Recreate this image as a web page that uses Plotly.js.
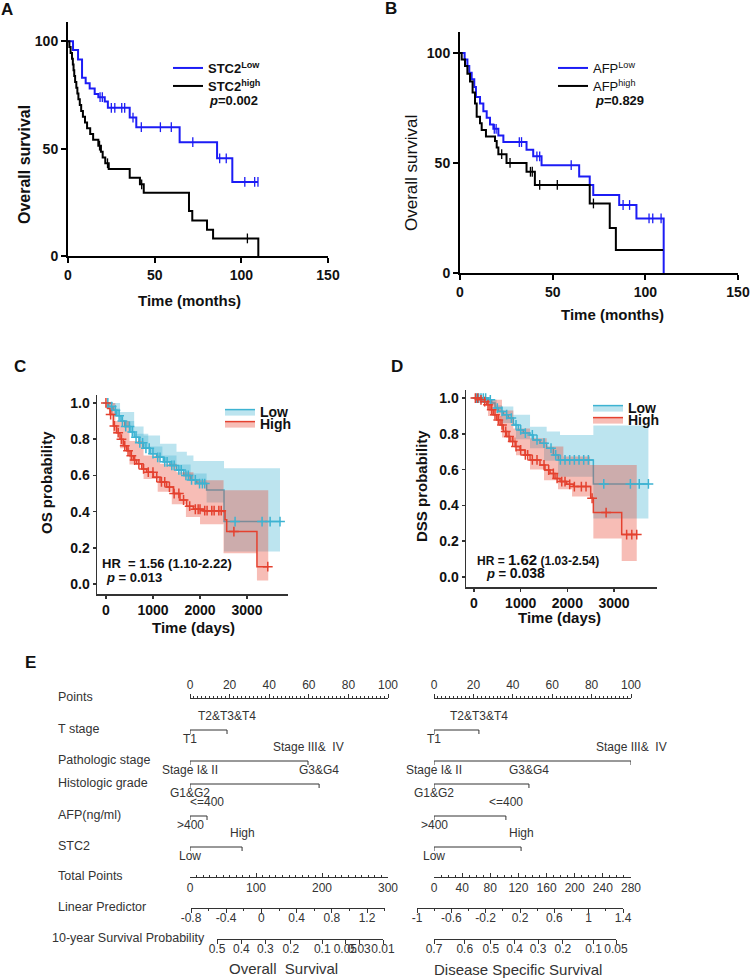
<!DOCTYPE html>
<html>
<head>
<meta charset="utf-8">
<script src="https://cdn.plot.ly/plotly-3.0.1.min.js"></script>
<style>
  html, body { margin: 0; padding: 0; background: #fff; }
  #fig { width: 755px; height: 979px; }
</style>
</head>
<body>
<div id="fig"></div>
<script>
// ---- A: STC2, overall survival (months, %) ----
var stcLowT = [0, 2.9, 5.8, 8.1, 10.2, 12.5, 15.4, 17.5, 21.2, 23, 35.6, 39.4, 64.4, 86, 94.8, 109.6];
var stcLowS = [100, 96, 91.5, 83, 80.5, 78, 75.5, 74, 72, 69, 64.5, 60, 53, 45.5, 34.5, 34.5];
var stcLowCens = [18.5, 19.8, 25, 27, 31, 32.7, 37.5, 42.3, 53.3, 59.6, 72, 87.5, 91.3, 102, 107.7, 109.6];
var stcHighT = [0, 0.8, 1.5, 2.3, 2.8, 3.2, 3.6, 4.1, 4.8, 5.4, 6, 6.8, 7.6, 8.6, 9.8, 11, 12.8, 14.5, 17.5, 19, 20, 21.5, 23.5, 35.6, 41.5, 43.7, 69.8, 71.7, 80.2, 83.7, 109.8];
var stcHighS = [100, 97.3, 94.6, 91.9, 89.2, 86.5, 83.8, 81.1, 78.4, 75.7, 73, 70.3, 67.6, 64.9, 62.2, 59.5, 56.8, 54.1, 51.4, 48.6, 45.9, 43.2, 40.5, 36.5, 33.4, 29.5, 21, 16.5, 12.2, 8.2, 0];
var stcHighCens = [18.2, 22.8, 42.5, 103.5];

// ---- B: AFP, overall survival (months, %) ----
var afpLowT = [0, 2.5, 4, 5, 6.3, 7.7, 8.6, 10.8, 12.6, 14.4, 16.2, 18, 20.7, 23.4, 35.9, 39.5, 44, 64.3, 70, 71.9, 85.9, 95.2, 109.9];
var afpLowS = [100, 97, 94, 91, 88, 84.5, 80, 77, 73.5, 70.5, 67.5, 65.5, 62.5, 59.5, 56, 53, 49, 43.8, 40, 35.4, 30.9, 24.8, 0];
var afpLowCens = [18.5, 19.5, 32, 33.2, 41.5, 43, 60, 88, 91.5, 102, 104, 108.5];
var afpHighT = [0, 0.9, 2.7, 4, 5.4, 6.8, 8.1, 9, 10.8, 11.7, 14, 18.9, 19.8, 20.7, 25.1, 35.9, 40.4, 70, 80.8, 84.1, 109.6];
var afpHighS = [100, 97, 94, 90.5, 87, 82, 77, 71, 68, 65, 62, 60, 57, 54, 50, 46, 40, 31.6, 20.5, 10.5, 10.5];
var afpHighCens = [22.5, 27, 38, 39, 43, 52.5, 72];

// ---- C: OS (days, probability) with 95% bands ----
var cLowT = [0, 60, 150, 230, 320, 400, 510, 600, 700, 800, 940, 1080, 1220, 1360, 1500, 1650, 1790, 1930, 2140, 2510, 3700];
var cLowS = [1.0, 0.98, 0.96, 0.93, 0.9, 0.87, 0.84, 0.81, 0.78, 0.75, 0.72, 0.70, 0.675, 0.655, 0.63, 0.60, 0.575, 0.555, 0.52, 0.345, 0.345];
var cLowUpT = [0, 300, 600, 800, 1150, 1500, 1720, 1860, 2510, 3700];
var cLowUp = [1.0, 0.95, 0.87, 0.82, 0.775, 0.73, 0.71, 0.68, 0.64, 0.64];
var cLowLoT = [0, 300, 600, 900, 1200, 1500, 1800, 2140, 2510, 3700];
var cLowLo = [0.97, 0.9, 0.83, 0.76, 0.71, 0.66, 0.61, 0.45, 0.18, 0.18];
var cLowCens = [40, 120, 200, 280, 350, 420, 500, 560, 640, 720, 780, 850, 920, 1000, 1100, 1150, 1250, 1300, 1400, 1450, 1550, 1600, 1700, 1750, 1820, 1900, 1990, 2050, 2100, 2745, 3319, 3490, 3700];
var cHighT = [0, 40, 85, 156, 227, 298, 369, 440, 511, 582, 652, 759, 865, 1007, 1149, 1291, 1433, 1574, 1716, 1858, 2071, 2496, 2532, 2567, 3210, 3450];
var cHighS = [1.0, 0.97, 0.936, 0.873, 0.836, 0.80, 0.764, 0.736, 0.709, 0.685, 0.664, 0.636, 0.618, 0.59, 0.564, 0.536, 0.50, 0.464, 0.43, 0.413, 0.405, 0.40, 0.355, 0.29, 0.096, 0.096];
var cHighUpT = [0, 200, 500, 800, 1150, 1500, 1860, 2500, 3450];
var cHighUp = [1.0, 0.9, 0.79, 0.71, 0.664, 0.618, 0.573, 0.518, 0.518];
var cHighLoT = [0, 150, 300, 500, 800, 1100, 1400, 1700, 2000, 2500, 3210, 3450];
var cHighLo = [0.97, 0.83, 0.75, 0.66, 0.58, 0.51, 0.44, 0.37, 0.33, 0.17, 0.02, 0.02];
var cHighCens = [0, 100, 180, 260, 330, 400, 470, 540, 610, 700, 800, 900, 1000, 1080, 1180, 1250, 1350, 1450, 1550, 1650, 1780, 1900, 1960, 2000, 2100, 2150, 2250, 2300, 2400, 2450, 2720, 3440];

// ---- D: DSS (days, probability) with 95% bands ----
var dLowT = [0, 307, 379, 450, 521, 629, 736, 843, 950, 1057, 1200, 1271, 1414, 1557, 1700, 1807, 2557, 3736];
var dLowS = [1.0, 0.99, 0.972, 0.944, 0.925, 0.907, 0.888, 0.85, 0.822, 0.804, 0.794, 0.766, 0.748, 0.72, 0.682, 0.654, 0.52, 0.52];
var dLowUpT = [0, 300, 486, 843, 1200, 1557, 1843, 2557, 3736];
var dLowUp = [1.0, 0.99, 0.953, 0.907, 0.84, 0.813, 0.794, 0.847, 0.847];
var dLowLoT = [0, 300, 600, 900, 1200, 1500, 1800, 2557, 3736];
var dLowLo = [0.99, 0.96, 0.86, 0.77, 0.72, 0.65, 0.56, 0.327, 0.327];
var dLowCens = [50, 100, 150, 200, 250, 350, 500, 600, 700, 800, 900, 1000, 1100, 1250, 1350, 1500, 1650, 1750, 1850, 1950, 2050, 2150, 2250, 2350, 2450, 2780, 3350, 3540, 3736];
var dHighT = [0, 129, 200, 271, 343, 414, 486, 557, 629, 700, 771, 879, 986, 1093, 1200, 1414, 1521, 1629, 1736, 1843, 1986, 2129, 2500, 2557, 3164, 3486];
var dHighS = [1.0, 0.99, 0.98, 0.963, 0.935, 0.907, 0.878, 0.85, 0.813, 0.785, 0.757, 0.729, 0.71, 0.682, 0.654, 0.626, 0.598, 0.579, 0.551, 0.533, 0.518, 0.505, 0.44, 0.36, 0.237, 0.237];
var dHighUpT = [0, 300, 600, 843, 1200, 1557, 1914, 2486, 3486];
var dHighUp = [1.0, 0.99, 0.93, 0.83, 0.776, 0.729, 0.673, 0.626, 0.626];
var dHighLoT = [0, 300, 600, 900, 1200, 1500, 1800, 2100, 2557, 3164, 3486];
var dHighLo = [0.99, 0.9, 0.78, 0.68, 0.6, 0.54, 0.49, 0.45, 0.215, 0.089, 0.089];
var dHighCens = [30, 80, 150, 230, 300, 380, 450, 520, 600, 680, 750, 830, 900, 1000, 1100, 1150, 1250, 1350, 1500, 1600, 1700, 1780, 1880, 1950, 2050, 2150, 2300, 2400, 2530, 2830, 3270, 3380, 3486];

// ---- E: nomograms ----
var rowNames = ['Points', 'T stage', 'Pathologic stage', 'Histologic grade', 'AFP(ng/ml)', 'STC2', 'Total Points', 'Linear Predictor', '10-year Survival Probability'];
var lowLevels = ['T1', 'Stage I&amp; II', 'G1&amp;G2', '&gt;400', 'Low'];
var highLevels = ['T2&amp;T3&amp;T4', 'Stage III&amp;  IV', 'G3&amp;G4', '&lt;=400', 'High'];
var osPoints = [18.7, 59.6, 65.2, 8.6, 26.3];
var dssPoints = [22.8, 100, 48.2, 36.5, 44.2];
var pointTicks = [0, 20, 40, 60, 80, 100];
var osTotalTicks = [0, 100, 200, 300];
var dssTotalTicks = [0, 40, 80, 120, 160, 200, 240, 280];
var osLpTicks = [-0.8, -0.4, 0, 0.4, 0.8, 1.2];
var osLpText = ['-0.8', '-0.4', '0', '0.4', '0.8', '1.2'];
var dssLpTicks = [-1, -0.6, -0.2, 0.2, 0.6, 1, 1.4];
var dssLpText = ['-1', '-0.6', '-0.2', '0.2', '0.6', '1', '1.4'];
var osSurvTicks = [0.5, 0.4, 0.3, 0.2, 0.1, 0.05, 0.03, 0.01];
var osSurvText = ['0.5', '0.4', '0.3', '0.2', '0.1', '0.05', '0.03', '0.01'];
var dssSurvTicks = [0.7, 0.6, 0.5, 0.4, 0.3, 0.2, 0.1, 0.05];
var dssSurvText = ['0.7', '0.6', '0.5', '0.4', '0.3', '0.2', '0.1', '0.05'];

// ---------- helpers ----------
var F = 'Liberation Sans, Arial, Helvetica, sans-serif';
var W = 755, H = 979;
function fx(p) { return p / W; }
function fy(p) { return 1 - p / H; }
function cll(p) { return Math.log(-Math.log(p)); }
function stepAt(T, S, t) {
  var v = S[0];
  for (var i = 0; i < T.length; i++) { if (T[i] <= t) v = S[i]; }
  return v;
}

var blue = '#1c1cf5';
var cyan = '#3db3d2', cyanFill = 'rgba(70,180,212,0.36)';
var red = '#e4412f', redFill = 'rgba(232,72,52,0.36)';
var grey = '#333';

var data = [];
function kmLine(T, S, color, width, name, xa, ya, legend) {
  data.push({x: T, y: S, xaxis: xa, yaxis: ya, mode: 'lines', name: name, legend: legend,
    line: {shape: 'hv', color: color, width: width}, hoverinfo: 'skip', showlegend: !!name});
}
function censMarks(T, S, times, color, xa, ya, symbol, size, lw) {
  data.push({x: times, y: times.map(function (t) { return stepAt(T, S, t); }), xaxis: xa, yaxis: ya,
    mode: 'markers', showlegend: false, hoverinfo: 'skip',
    marker: {symbol: symbol, size: size, color: color, line: {color: color, width: lw}}});
}
function band(T, S, LT, L, UT, U, color, fill, name, xa, ya, legend) {
  data.push({x: LT, y: L, xaxis: xa, yaxis: ya, mode: 'lines', line: {shape: 'hv', width: 0}, showlegend: false, hoverinfo: 'skip'});
  data.push({x: T, y: S, xaxis: xa, yaxis: ya, mode: 'lines', line: {shape: 'hv', width: 1.5, color: color},
    fill: 'tonexty', fillcolor: fill, name: name, legend: legend, hoverinfo: 'skip'});
  data.push({x: UT, y: U, xaxis: xa, yaxis: ya, mode: 'lines', line: {shape: 'hv', width: 0},
    fill: 'tonexty', fillcolor: fill, showlegend: false, hoverinfo: 'skip'});
}

// A
kmLine(stcLowT, stcLowS, blue, 2, 'STC2<sup>Low</sup>', 'x', 'y', 'legend');
kmLine(stcHighT, stcHighS, '#000', 2, 'STC2<sup>high</sup>', 'x', 'y', 'legend2');
censMarks(stcLowT, stcLowS, stcLowCens, blue, 'x', 'y', 'line-ns', 7, 1.3);
censMarks(stcHighT, stcHighS, stcHighCens, '#000', 'x', 'y', 'line-ns', 7, 1.3);
// B
kmLine(afpLowT, afpLowS, blue, 2, 'AFP<sup>Low</sup>', 'x2', 'y2', 'legend3');
kmLine(afpHighT, afpHighS, '#000', 2, 'AFP<sup>high</sup>', 'x2', 'y2', 'legend4');
censMarks(afpLowT, afpLowS, afpLowCens, blue, 'x2', 'y2', 'line-ns', 7, 1.3);
censMarks(afpHighT, afpHighS, afpHighCens, '#000', 'x2', 'y2', 'line-ns', 7, 1.3);
// C
band(cLowT, cLowS, cLowLoT, cLowLo, cLowUpT, cLowUp, cyan, cyanFill, 'Low', 'x3', 'y3', 'legend5');
band(cHighT, cHighS, cHighLoT, cHighLo, cHighUpT, cHighUp, red, redFill, 'High', 'x3', 'y3', 'legend6');
censMarks(cLowT, cLowS, cLowCens, cyan, 'x3', 'y3', 'cross-thin', 7, 1.5);
censMarks(cHighT, cHighS, cHighCens, red, 'x3', 'y3', 'cross-thin', 7, 1.5);
// D
band(dLowT, dLowS, dLowLoT, dLowLo, dLowUpT, dLowUp, cyan, cyanFill, 'Low', 'x4', 'y4', 'legend7');
band(dHighT, dHighS, dHighLoT, dHighLo, dHighUpT, dHighUp, red, redFill, 'High', 'x4', 'y4', 'legend8');
censMarks(dLowT, dLowS, dLowCens, cyan, 'x4', 'y4', 'cross-thin', 7, 1.5);
censMarks(dHighT, dHighS, dHighCens, red, 'x4', 'y4', 'cross-thin', 7, 1.5);

// E: nomogram rows (pixel row slots on a hidden y axis)
var rowPx = [698, 730, 761, 784, 816, 847, 877, 908, 939];
var annotations = [];
function nomoFactors(pts, xa) {
  pts.forEach(function (p, i) {
    var r = rowPx[i + 1];
    data.push({x: [0, p], y: [r, r], xaxis: xa, yaxis: 'y5', mode: 'lines', line: {color: grey, width: 1},
      error_y: {type: 'data', symmetric: false, array: [4, 4], arrayminus: [0, 0], width: 0, thickness: 1, color: grey},
      showlegend: false, hoverinfo: 'skip'});
    annotations.push({xref: xa, yref: 'y5', x: 0, y: r + 9, text: lowLevels[i], showarrow: false, font: {size: 12, color: grey}});
    annotations.push({xref: xa, yref: 'y5', x: p, y: r - 14, text: highLevels[i], showarrow: false, font: {size: 12, color: grey}});
  });
}
function scaleHolder(vals, row, xa) {
  data.push({x: vals, y: vals.map(function () { return rowPx[row]; }), xaxis: xa, yaxis: 'y5', mode: 'markers',
    marker: {opacity: 0}, showlegend: false, hoverinfo: 'skip'});
}
nomoFactors(osPoints, 'x5');
scaleHolder(osTotalTicks, 6, 'x6');
scaleHolder(osLpTicks, 7, 'x7');
scaleHolder(osSurvTicks.map(cll), 8, 'x8');
nomoFactors(dssPoints, 'x9');
scaleHolder(dssTotalTicks, 6, 'x10');
scaleHolder(dssLpTicks, 7, 'x11');
scaleHolder(dssSurvTicks.map(cll), 8, 'x12');

// ---------- axes ----------
var boldTick = {family: F, size: 14, color: '#111', weight: 'bold'};
function kmAxis(dom, rng, vals, anchor, lw, col, extra) {
  var a = {domain: dom, range: rng, tickvals: vals, ticks: 'outside', ticklen: 5, tickwidth: lw,
    showline: true, linewidth: lw, linecolor: col, tickcolor: col, showgrid: false, zeroline: false,
    tickfont: boldTick, anchor: anchor, fixedrange: true};
  for (var k in extra) a[k] = extra[k];
  return a;
}
var nomoFont = {family: F, size: 12, color: grey};
function nomoAxis(x0, x1, rng, row, side, ticks, vals, text, minor, standoff) {
  var a = {domain: [fx(x0), fx(x1)], range: rng, anchor: 'free', position: fy(rowPx[row]), side: side,
    tickmode: 'array', tickvals: vals, ticktext: text, ticks: ticks, ticklen: 4, tickwidth: 1, tickcolor: grey, tickangle: 0,
    ticklabelstandoff: standoff || 0,
    showline: true, linewidth: 1, linecolor: grey, showgrid: false, zeroline: false, tickfont: nomoFont, fixedrange: true};
  if (minor) a.minor = {tickmode: 'linear', tick0: minor[0], dtick: minor[1], ticks: ticks, ticklen: 2, tickwidth: 1, tickcolor: grey, showgrid: false};
  return a;
}
function legendAt(x, y, size, weight) {
  return {x: fx(x), y: fy(y), xanchor: 'left', yanchor: 'top', bgcolor: 'rgba(0,0,0,0)',
    font: {family: F, size: size, weight: weight, color: '#111'}, tracegroupgap: 0};
}

var layout = {
  width: W, height: H, margin: {l: 0, r: 0, t: 0, b: 0},
  paper_bgcolor: '#fff', plot_bgcolor: 'rgba(0,0,0,0)',
  font: {family: F, color: '#111'},
  xaxis: kmAxis([fx(68), fx(328)], [0, 150], [0, 50, 100, 150], 'y', 2, '#000', {}),
  yaxis: kmAxis([fy(256), fy(22)], [0, 109], [0, 50, 100], 'x', 2, '#000', {}),
  xaxis2: kmAxis([fx(460), fx(738)], [0, 150], [0, 50, 100, 150], 'y2', 2, '#000', {}),
  yaxis2: kmAxis([fy(273), fy(32)], [0, 109.5], [0, 50, 100], 'x2', 2, '#000', {}),
  xaxis3: kmAxis([fx(97), fx(288)], [-190, 3870], [0, 1000, 2000, 3000], 'y3', 1.5, '#333', {ticklen: 3}),
  yaxis3: kmAxis([fy(594), fy(395)], [-0.055, 1.044], [0, 0.2, 0.4, 0.6, 0.8, 1.0], 'x3', 1.5, '#333', {ticklen: 3, tickformat: '.1f'}),
  xaxis4: kmAxis([fx(466), fx(657)], [-171, 3920], [0, 1000, 2000, 3000], 'y4', 1.5, '#333', {ticklen: 3}),
  yaxis4: kmAxis([fy(587), fy(390)], [-0.056, 1.045], [0, 0.2, 0.4, 0.6, 0.8, 1.0], 'x4', 1.5, '#333', {ticklen: 3, tickformat: '.1f'}),
  yaxis5: {domain: [fy(965), fy(675)], range: [965, 675], visible: false, anchor: 'x5', fixedrange: true},
  xaxis5: nomoAxis(190, 388, [0, 100], 0, 'top', 'outside', pointTicks, pointTicks.map(String), [0, 2]),
  xaxis6: nomoAxis(190, 388, [0, 300], 6, 'bottom', 'inside', osTotalTicks, osTotalTicks.map(String), [0, 10]),
  xaxis7: nomoAxis(191, 384.6, [-0.8, 1.4], 7, 'bottom', 'outside', osLpTicks, osLpText, [-0.8, 0.2], -5),
  xaxis8: nomoAxis(217, 383, [cll(0.5), cll(0.01)], 8, 'bottom', 'outside', osSurvTicks.map(cll), osSurvText, null, -5),
  xaxis9: nomoAxis(434, 631, [0, 100], 0, 'top', 'outside', pointTicks, pointTicks.map(String), [0, 2]),
  xaxis10: nomoAxis(434, 631, [0, 280], 6, 'bottom', 'inside', dssTotalTicks, dssTotalTicks.map(String), [0, 10]),
  xaxis11: nomoAxis(417, 623, [-1, 1.4], 7, 'bottom', 'outside', dssLpTicks, dssLpText, [-1, 0.2], -5),
  xaxis12: nomoAxis(434, 616, [cll(0.7), cll(0.05)], 8, 'bottom', 'outside', dssSurvTicks.map(cll), dssSurvText, null, -5),
  legend: legendAt(168, 53, 13, 'bold'),
  legend2: legendAt(168, 71, 13, 'bold'),
  legend3: legendAt(553, 53, 13, 'normal'),
  legend4: legendAt(553, 71, 13, 'normal'),
  legend5: legendAt(220, 396, 14, 'bold'),
  legend6: legendAt(220, 408, 14, 'bold'),
  legend7: legendAt(588, 392, 14, 'bold'),
  legend8: legendAt(588, 404, 14, 'bold'),
  annotations: annotations
};

function note(x, y, text, size, extra) {
  var a = {xref: 'paper', yref: 'paper', x: fx(x), y: fy(y), text: text, showarrow: false,
    font: {family: F, size: size, color: '#111'}, xanchor: 'center', yanchor: 'middle'};
  for (var k in extra) a[k] = extra[k];
  annotations.push(a);
}
function boldFont(size) { return {family: F, size: size, color: '#111', weight: 'bold'}; }

// panel letters
note(7, 10, 'A', 17, {font: boldFont(17)});
note(391, 9, 'B', 17, {font: boldFont(17)});
note(20, 367, 'C', 17, {font: boldFont(17)});
note(397, 367, 'D', 17, {font: boldFont(17)});
note(30, 662, 'E', 17, {font: boldFont(17)});
// axis titles A/B
note(25, 165, 'Overall survival', 16, {textangle: -90, font: boldFont(16)});
note(189, 300, 'Time (months)', 15, {font: boldFont(15)});
note(207, 101, '<i>p</i>=0.002', 13, {xanchor: 'left', font: boldFont(13)});
note(411, 173, 'Overall survival', 17, {textangle: -90});
note(612, 314, 'Time (months)', 15, {font: boldFont(15)});
note(593, 101, '<i>p</i>=0.829', 13, {xanchor: 'left', font: boldFont(13)});
// C / D titles and stats
note(47, 483, 'OS probability', 15, {textangle: -90, font: boldFont(15)});
note(193, 627, 'Time (days)', 15, {font: boldFont(15)});
note(100, 563, 'HR  = 1.56 (1.10-2.22)', 13, {xanchor: 'left', font: boldFont(13)});
note(104, 577, '<i>p</i> = 0.013', 13, {xanchor: 'left', font: boldFont(13)});
note(422, 486, 'DSS probability', 15, {textangle: -90, font: boldFont(15)});
note(559, 617, 'Time (days)', 15, {font: boldFont(15)});
note(475, 559, 'HR = <span style="font-size:15px">1.62</span> (1.03-2.54)', 12, {xanchor: 'left', font: boldFont(12)});
note(484, 573, '<i>p</i> = <span style="font-size:14px">0.038</span>', 13, {xanchor: 'left', font: boldFont(13)});
// nomogram row labels and titles
rowNames.forEach(function (n, i) {
  annotations.push({xref: 'paper', yref: 'y5', x: fx(i === 8 ? 50 : 56), y: rowPx[i] - 1, text: n, showarrow: false,
    xanchor: 'left', yanchor: 'middle', font: {family: F, size: 12.5, color: grey}});
});
note(283, 968, 'Overall  Survival', 15, {font: {family: F, size: 15, color: grey}});
note(518, 969, 'Disease Specific Survival', 15, {font: {family: F, size: 15, color: grey}});

Plotly.newPlot('fig', data, layout, {staticPlot: true, displayModeBar: false});
</script>
</body>
</html>
